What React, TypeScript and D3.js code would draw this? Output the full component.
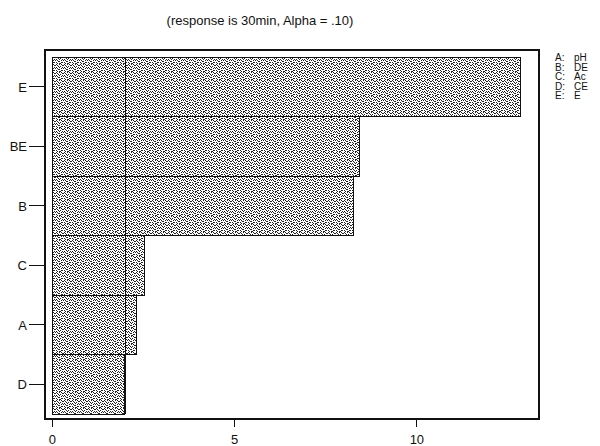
import React from 'react';
import { scaleLinear, scaleBand } from 'd3';

const terms = ['E', 'BE', 'B', 'C', 'A', 'D'];
const effects = [12.83, 8.43, 8.25, 2.53, 2.31, 1.99];
const refLine = 2.01;
const xTicks = [0, 5, 10];
const legendKeys = ['A', 'B', 'C', 'D', 'E'];
const legendNames = ['pH', 'DE', 'Ac', 'CE', 'E'];
const title = '(response is 30min, Alpha = .10)';

// stipple texture tile, 1 = black pixel
const tile = [
  '10010100',
  '01000011',
  '00101000',
  '10010010',
  '01000101',
  '00110000',
  '10000110',
  '01011000',
];

const font = 'Arial, "Liberation Sans", sans-serif';

const App = () => {
  const x = scaleLinear().domain([-0.2, 13.35]).range([45, 539]);
  const y = scaleBand().domain(terms).range([57, 414]).padding(0);
  const frame = { left: 45, right: 539, top: 50, bottom: 419 };

  const dots = [];
  tile.forEach((row, r) =>
    row.split('').forEach((c, i) => {
      if (c === '1') dots.push(<rect key={`${r}-${i}`} x={i} y={r} width={1} height={1} fill='#222' />);
    })
  );

  return (
    <div style={{ position: 'absolute', left: 0, top: 0 }}>
      <svg width={600} height={446} style={{ display: 'block', background: '#fff' }} shapeRendering='crispEdges'>
        <defs>
          <pattern id='stip' width={8} height={8} patternUnits='userSpaceOnUse'>
            <rect width={8} height={8} fill='#fff' />
            {dots}
          </pattern>
        </defs>
        <text x={260} y={25} textAnchor='middle' fontFamily={font} fontSize={13} fill='#111'>
          {title}
        </text>

        {terms.map((t, i) => (
          <rect
            key={t}
            x={x(0)}
            y={y(t)}
            width={x(effects[i]) - x(0)}
            height={y.bandwidth()}
            fill='url(#stip)'
            stroke='#111'
            strokeWidth={1}
          />
        ))}

        <line x1={x(refLine)} x2={x(refLine)} y1={y.range()[0]} y2={y.range()[1]} stroke='#111' strokeWidth={1.5} />

        <rect
          x={frame.left}
          y={frame.top}
          width={frame.right - frame.left}
          height={frame.bottom - frame.top}
          fill='none'
          stroke='#111'
          strokeWidth={1.5}
        />

        {terms.map((t) => {
          const cy = y(t) + y.bandwidth() / 2;
          return (
            <g key={t}>
              <line x1={29} x2={frame.left} y1={cy} y2={cy} stroke='#111' strokeWidth={1.2} />
              <text x={27} y={cy + 5} textAnchor='end' fontFamily={font} fontSize={13} fill='#111'>
                {t}
              </text>
            </g>
          );
        })}

        {xTicks.map((v) => (
          <g key={v}>
            <line x1={x(v)} x2={x(v)} y1={frame.bottom} y2={427} stroke='#111' strokeWidth={1.2} />
            <text x={x(v)} y={444} textAnchor='middle' fontFamily={font} fontSize={13} fill='#111'>
              {v}
            </text>
          </g>
        ))}

        {legendKeys.map((k, i) => (
          <g key={k}>
            <text x={555} y={61 + i * 9.5} fontFamily={font} fontSize={10} fill='#111'>
              {k}:
            </text>
            <text x={574} y={61 + i * 9.5} fontFamily={font} fontSize={10} fill='#111'>
              {legendNames[i]}
            </text>
          </g>
        ))}
      </svg>
    </div>
  );
};

export default App;
